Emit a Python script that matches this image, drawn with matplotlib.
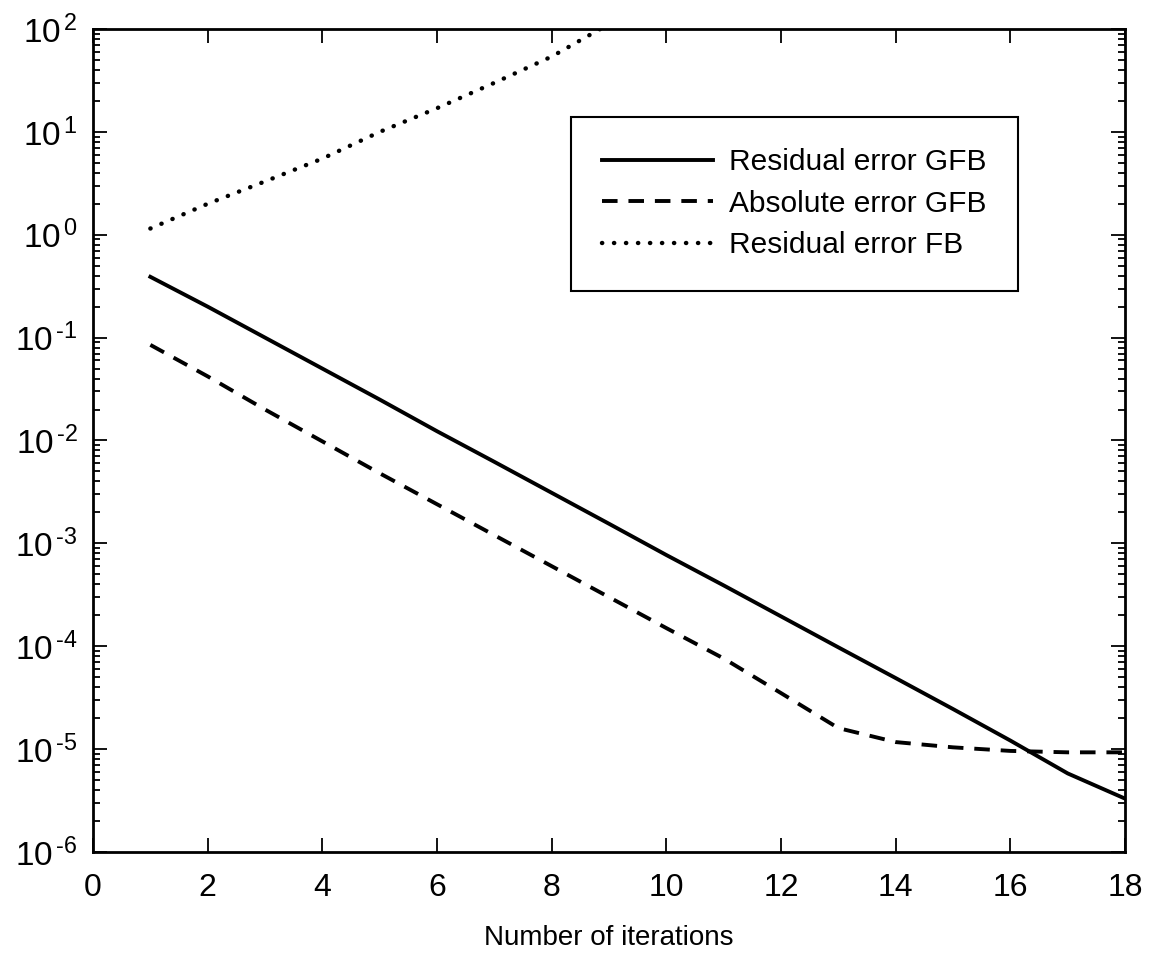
import numpy as np
import matplotlib
matplotlib.use('Agg')
from matplotlib import pyplot as plt
from matplotlib.ticker import LogLocator, FixedLocator, NullFormatter

plt.rcParams['font.family'] = ['Liberation Sans', 'DejaVu Sans']
plt.rcParams['mathtext.fontset'] = 'custom'
plt.rcParams['mathtext.rm'] = 'Liberation Sans'
plt.rcParams['mathtext.it'] = 'Liberation Sans'
plt.rcParams['mathtext.bf'] = 'Liberation Sans'

# Data
iterations = np.arange(1, 19)
residual_gfb = [0.39, 0.2, 0.1, 0.05, 0.025, 0.0123, 0.0062, 0.0031, 0.00155,
                0.00077, 0.00039, 0.000195, 0.0000975, 0.000049, 0.0000245,
                0.0000121, 0.0000058, 0.0000033]
absolute_gfb = [0.085, 0.042, 0.02, 0.0098, 0.0048, 0.0024, 0.0012, 0.0006,
                0.0003, 0.00015, 0.000076, 0.000035, 0.000016, 0.0000117,
                0.0000104, 0.0000096, 0.0000093, 0.0000093]
fb_iterations = np.arange(1, 11)
residual_fb = [1.15, 2.0, 3.3, 5.5, 10.0, 17.0, 30.0, 54.0, 112.0, 230.0]

x_ticks = list(range(0, 19, 2))
y_ticks = [1e-6, 1e-5, 1e-4, 1e-3, 1e-2, 1e-1, 1e0, 1e1, 1e2]
y_tick_labels = [r'$10^{\,\text{-}6}$', r'$10^{\,\text{-}5}$', r'$10^{\,\text{-}4}$',
                 r'$10^{\,\text{-}3}$', r'$10^{\,\text{-}2}$', r'$10^{\,\text{-}1}$',
                 r'$10^{\,0}$', r'$10^{\,1}$', r'$10^{\,2}$']

fig = plt.figure(figsize=(11.5, 9.55), dpi=100)
ax = fig.add_axes([0.0809, 0.1079, 0.8974, 0.8617])

lw = 2.8
ax.plot(iterations, residual_gfb, color='black', linewidth=lw, linestyle='-',
        label='Residual error GFB')
ax.plot(iterations, absolute_gfb, color='black', linewidth=lw,
        linestyle=(0, (4.0, 2.8)), label='Absolute error GFB')
ax.plot(fb_iterations, residual_fb, color='black', linewidth=3.2,
        linestyle=(0, (0.05, 2.65)), dash_capstyle='round',
        label='Residual error FB')

ax.set_yscale('log')
ax.set_xlim(0, 18)
ax.set_ylim(1e-6, 1e2)

ax.xaxis.set_major_locator(FixedLocator(x_ticks))
ax.set_xticklabels([str(t) for t in x_ticks])
ax.yaxis.set_major_locator(FixedLocator(y_ticks))
ax.set_yticklabels(y_tick_labels)
ax.yaxis.set_minor_locator(LogLocator(base=10, subs=np.arange(2, 10), numticks=20))
ax.yaxis.set_minor_formatter(NullFormatter())

ax.tick_params(axis='both', which='both', direction='in', top=True, right=True,
               width=1.3)
ax.tick_params(axis='x', which='major', labelsize=23, pad=15)
ax.tick_params(axis='y', which='major', labelsize=24, pad=11)
ax.tick_params(axis='both', which='major', length=10)
ax.tick_params(axis='y', which='minor', length=5)
for spine in ax.spines.values():
    spine.set_linewidth(2.0)

ax.set_xlabel('Number of iterations', fontsize=20, labelpad=16)

leg = ax.legend(loc='upper left', bbox_to_anchor=(0.463, 0.893), fontsize=21.5,
                frameon=True, fancybox=False, framealpha=1, edgecolor='black',
                handlelength=3.7, handletextpad=0.55, labelspacing=0.45,
                borderpad=1.05, borderaxespad=0)
leg.get_frame().set_linewidth(1.5)

fig.savefig('out.png', dpi=100)
